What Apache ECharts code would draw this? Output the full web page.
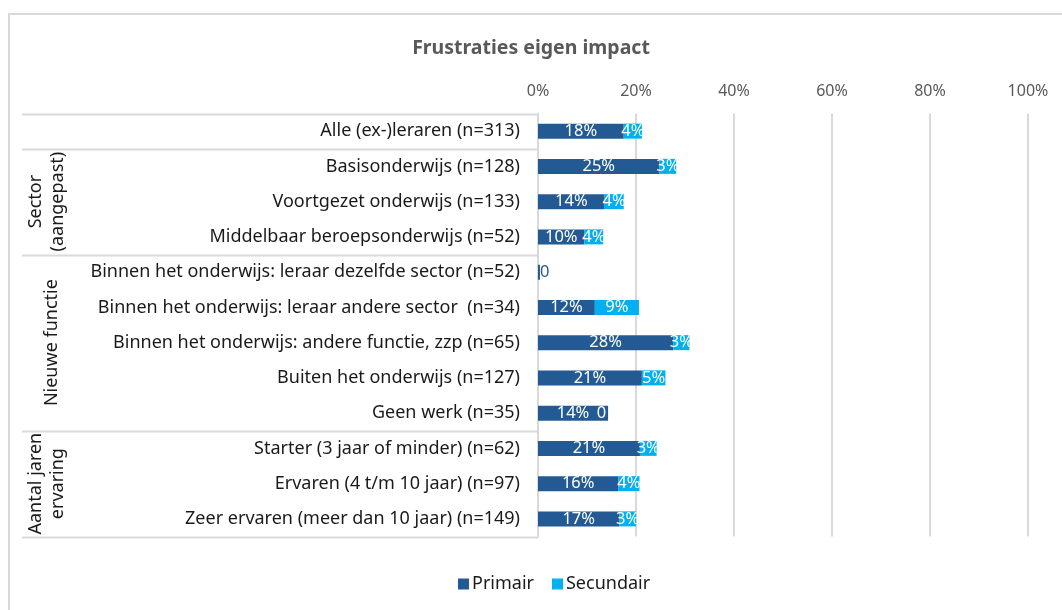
<!DOCTYPE html>
<html>
<head>
<meta charset="utf-8">
<script src="https://cdn.jsdelivr.net/npm/echarts@6/dist/echarts.min.js"></script>
<style>html,body{margin:0;padding:0;background:#fff}#c{width:1062px;height:610px}</style>
</head>
<body>
<div id="c"></div>
<script>
const title = 'Frustraties eigen impact';
const categories = [
  'Alle (ex-)leraren (n=313)',
  'Basisonderwijs (n=128)',
  'Voortgezet onderwijs (n=133)',
  'Middelbaar beroepsonderwijs (n=52)',
  'Binnen het onderwijs: leraar dezelfde sector (n=52)',
  'Binnen het onderwijs: leraar andere sector  (n=34)',
  'Binnen het onderwijs: andere functie, zzp (n=65)',
  'Buiten het onderwijs (n=127)',
  'Geen werk (n=35)',
  'Starter (3 jaar of minder) (n=62)',
  'Ervaren (4 t/m 10 jaar) (n=97)',
  'Zeer ervaren (meer dan 10 jaar) (n=149)'
];
const primair =   [17.5, 24.8, 13.6, 9.5, 0.4, 11.6, 27.6, 21.2, 14.3, 20.8, 16.4, 16.6];
const secundair = [3.7,  3.4,  3.9,  3.8, 0,   9.0,  3.3,  4.8,  0,    3.4,  4.3,  3.4];
const groups = [
  {label: 'Sector\n(aangepast)', from: 1, to: 3, x: 47},
  {label: 'Nieuwe functie', from: 4, to: 8, x: 52},
  {label: 'Aantal jaren\nervaring', from: 9, to: 11, x: 47}
];
const separators = [0, 1, 4, 9, 12]; // band boundaries (before index)
const xTicks = [0, 20, 40, 60, 80, 100];

const C1 = '#235A94', C2 = '#00B0F0';
const FONT = 'Noto Sans';

function fmt(v){ const r = Math.round(v); return r === 0 ? '0' : r + '%'; }
function buildData(arr, color, isPrimary){
  return arr.map((v, i) => {
    const item = {value: v};
    if (v < 1) {
      if (isPrimary) item.label = {position: 'insideLeft', color: color, distance: 2};
      else if (primair[i] < 1) item.label = {show: false};
      else item.label = {position: 'insideRight', distance: 2};
    }
    return item;
  });
}

const chart = echarts.init(document.getElementById('c'), null, {renderer: 'canvas'});
const gridTop = 113.5, gridBottom = 73.5;
const option = {
  animation: false,
  textStyle: {fontFamily: FONT},
  title: {text: title, left: 'center', top: 33, textStyle: {fontFamily: FONT, fontSize: 19.5, fontWeight: 'bold', color: '#595959'}},
  legend: {bottom: 12, left: 453, itemWidth: 11, itemHeight: 11, itemGap: 18, icon: 'rect',
    textStyle: {fontFamily: FONT, fontSize: 18, color: '#1a1a1a', padding: [0, 0, 0, -2]}, data: ['Primair', 'Secundair']},
  grid: {left: 538, right: 34, top: gridTop, bottom: gridBottom, containLabel: false},
  xAxis: {type: 'value', position: 'top', min: xTicks[0], max: xTicks[xTicks.length-1], interval: 20,
    axisLine: {show: false}, axisTick: {show: false},
    axisLabel: {formatter: '{value}%', color: '#595959', fontSize: 16, margin: 14, fontFamily: FONT},
    splitLine: {lineStyle: {color: '#d9d9d9', width: 2}}},
  yAxis: {type: 'category', inverse: true, data: categories,
    axisLine: {lineStyle: {color: '#d9d9d9', width: 2}}, axisTick: {show: false},
    axisLabel: {color: '#1a1a1a', fontSize: 18, margin: 18, fontFamily: FONT}},
  series: [
    {name: 'Primair', type: 'bar', stack: 's', barWidth: 15, itemStyle: {color: C1},
      label: {show: true, position: 'inside', color: '#fff', fontSize: 16.5, fontFamily: FONT, formatter: p => fmt(p.value)},
      data: buildData(primair, C1, true)},
    {name: 'Secundair', type: 'bar', stack: 's', barWidth: 15, itemStyle: {color: C2},
      label: {show: true, position: 'inside', color: '#fff', fontSize: 16.5, fontFamily: FONT, formatter: p => fmt(p.value)},
      data: buildData(secundair, C2, false)}
  ]
};
chart.setOption(option);

// group separators and labels from the category axis scale
const yPix = i => chart.convertToPixel({yAxisIndex: 0}, i);
const band = yPix(1) - yPix(0);
const boundary = b => yPix(Math.min(b, categories.length - 1)) + (b >= categories.length ? band / 2 : -band / 2);
const gfx = [];
gfx.push({type: 'rect', shape: {x: 9, y: 14, width: 1100, height: 700}, style: {fill: 'none', stroke: '#d9d9d9', lineWidth: 2}, z: 0});
separators.forEach(b => {
  const y = Math.round(boundary(b)) + 0.5;
  gfx.push({type: 'line', shape: {x1: 22, y1: y, x2: 538, y2: y}, style: {stroke: '#d9d9d9', lineWidth: 2}, z: 1});
});
groups.forEach(g => {
  const yc = (boundary(g.from) + boundary(g.to + 1)) / 2;
  gfx.push({type: 'text', x: g.x, y: yc, rotation: Math.PI / 2,
    style: {text: g.label, fontFamily: FONT, fontSize: 18, fill: '#1a1a1a', align: 'center', verticalAlign: 'middle', lineHeight: 22}, z: 2});
});
chart.setOption({graphic: gfx});
</script>
</body>
</html>
